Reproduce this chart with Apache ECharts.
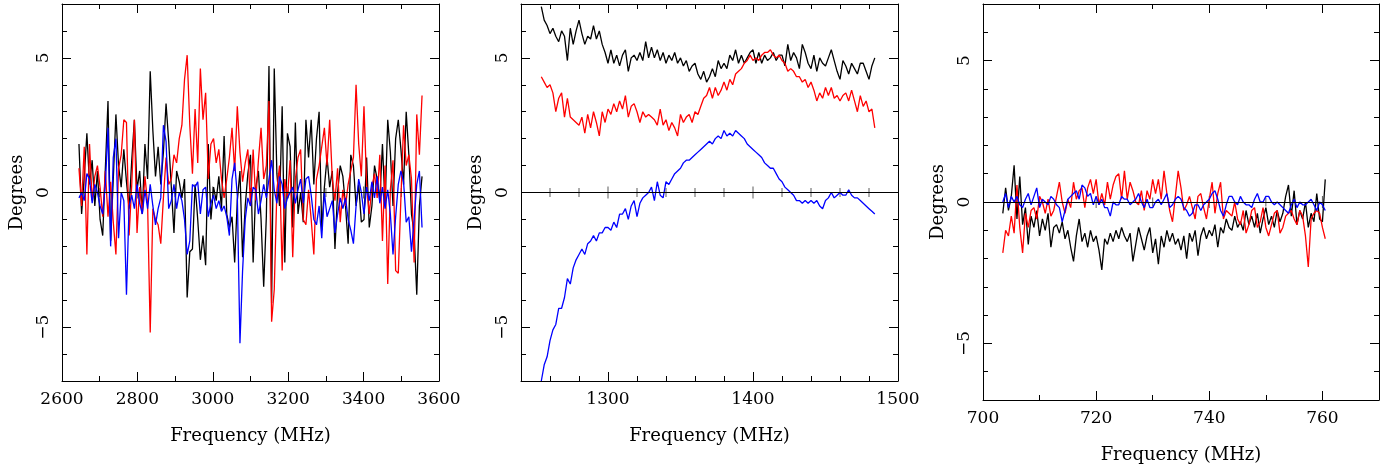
<!DOCTYPE html>
<html>
<head>
<meta charset="utf-8">
<script src="https://cdn.jsdelivr.net/npm/echarts/dist/echarts.min.js"></script>
<style>
html, body { margin: 0; padding: 0; background: #fff; }
#chart { width: 1392px; height: 469px; }
</style>
</head>
<body>
<div id="chart"></div>
<script>
// panel 1: 2645 MHz onwards, 7 MHz channels
var p1Start = 2645, p1Step = 7;
var p1Black = [1.8, -0.8, 0.6, 2.2, 0.3, 1.2, -0.5, 0.8, -1.0, -1.6, 0.9, 3.4, -1.8, 0.5, 2.9, 1.0, 0.2, 1.6, 0.4, -0.6, 1.2, 2.7, 0.1, 0.8, -0.8, 1.8, 0.5, 4.5, 2.3, 0.6,
  1.7, 0.3, 1.5, 3.3, 1.9, 0.2, -1.5, 0.8, 0.4, -0.2, 0.5, -3.9, -2.2, -2.1, 0.3, -1.0, -2.5, -1.6, -2.7, 1.8, -1.0, 0.2, -0.3, 0.6, -0.6, 2.1, -0.8, -1.3, -0.9, -2.6, -0.3, 0.8, -2.4, -0.5, 0.7, 1.4,
  -2.6, 0.2, 0.8, -1.0, -3.5, -0.9, 4.7, -4.1, 4.6, 0.7, -0.5, 3.2, -2.6, 2.2, 1.7, -1.3, 2.6, -0.8, 0.0, -1.1, 2.7, 1.3, 2.7, 0.3, 2.0, 3.0, -1.4, 0.2, 1.3, 0.2, 0.8, -2.1, 0.0, 1.0, 0.6,
  -0.5, -1.9, 1.4, 1.0, -0.5, 0.3, -1.1, -1.0, 1.3, -1.3, -0.5, 1.0, 0.5, -0.3, 1.8, -0.5, 2.7, 1.5, -0.5, 2.0, 2.7, 1.6, 0.3, 3.0, 1.4, -0.8, -1.5, -3.8, -0.5, 0.6];
var p1Red = [0.9, -0.5, 1.7, -2.3, 1.8, -0.3, 0.6, 1.0, 0.2, -0.9, 0.8, -0.9, 0.4, -1.1, -2.3, 0.9, 1.4, 2.7, 2.6, -1.6, 0.3, 2.7, -1.5, 0.2, -0.8, 0.6, -0.4, -5.2, -0.6, -1.0,
  -1.2, -1.9, -0.2, 1.3, 0.3, 0.5, 1.4, 1.1, 2.0, 2.5, 4.2, 5.1, 2.5, 0.7, 3.1, 1.1, 4.6, 2.7, 3.7, 0.5, 1.8, 2.0, 1.1, 1.6, 0.5, -0.2, 0.5, 1.3, 2.4, 0.8, 3.2, 1.5, 0.4, 1.1, 1.6, -0.5,
  1.6, -0.3, 1.2, 2.4, 0.5, 1.0, 3.4, -4.8, -3.6, 0.1, 1.0, -2.9, 0.5, -0.2, 1.2, -2.4, 0.5, 1.3, 1.6, -1.0, -1.2, 0.1, -1.0, -2.3, 0.5, 1.0, 1.7, 2.4, 1.0, 2.7, 0.5, -0.3, 0.9, -1.1, 0.1,
  -0.5, 0.3, 0.8, 1.3, 4.0, 1.8, 0.6, 3.2, 0.3, -0.8, 0.2, 0.7, -0.2, 1.4, -1.8, 1.0, -3.4, 0.1, 1.2, -2.9, -3.0, -0.2, 2.5, 1.0, 1.4, 0.5, -2.6, 2.9, 1.4, 3.6];
var p1Blue = [-0.2, 0.0, -0.3, 0.7, 0.5, -0.4, 0.3, 0.0, -0.5, -0.8, 0.3, 2.4, -2.0, 1.3, 2.0, -1.7, 0.0, -0.3, -3.8, -0.5, -0.1, -0.6, 0.3, -0.4, -0.8, 0.1, -0.6, 0.3, -0.5, -1.2,
  -0.6, -0.2, 2.5, 1.9, -0.6, -0.3, 0.3, -0.6, 0.0, -0.3, -1.0, -2.3, -1.8, 0.3, 0.2, 0.4, -0.8, 0.1, 0.2, -0.9, -0.4, -0.1, -0.6, -0.3, -0.7, -0.5, -0.9, -1.6, 0.5, 1.1, -0.1, -5.6, -2.9, -1.0, -0.2, -0.5,
  0.2, 0.1, -0.8, -0.3, 0.3, -0.2, 0.5, 1.2, 0.1, -0.4, 0.6, 0.3, -0.6, -0.2, 0.0, 0.2, -0.4, 0.1, 0.5, -0.4, 0.5, 0.6, -0.1, -1.0, -1.2, -0.5, -1.7, 0.0, -0.9, -0.6, -0.3, -1.5, -0.8, -0.2, -0.6,
  -0.2, -1.0, -1.4, -1.9, -0.5, 0.5, 0.0, -0.8, 0.2, -0.3, 0.4, -0.2, 0.6, -0.4, 0.2, -0.6, 0.1, -0.8, -2.3, -0.9, 0.3, 0.8, 0.4, -1.1, -0.9, -2.2, -1.0, 0.3, 0.8, -1.3];

// panel 2: 1254 MHz onwards, 2 MHz channels
var p2Start = 1254, p2Step = 2;
var p2Black = [6.9, 6.4, 6.2, 5.9, 6.1, 5.8, 5.6, 6.0, 5.8, 4.9, 6.1, 5.5, 6.0, 6.4, 5.9, 5.5, 5.8, 5.7, 6.2, 5.7, 6.0, 5.5, 5.2, 4.8, 5.3, 4.8, 5.1, 4.7, 5.1, 5.3,
  4.5, 5.0, 5.1, 4.9, 5.2, 4.9, 5.6, 5.0, 5.4, 5.0, 5.3, 4.9, 5.2, 4.8, 5.1, 4.9, 5.2, 4.8, 5.0, 4.7, 4.9, 4.5, 4.7, 4.8, 4.4, 4.2, 4.5, 4.1, 4.3,
  4.6, 4.3, 4.9, 4.6, 4.8, 4.6, 5.1, 4.9, 5.3, 4.8, 5.1, 4.8, 5.0, 5.2, 5.3, 4.8, 5.2, 4.8, 5.1, 4.9, 5.0, 5.2, 4.9, 5.1, 5.1, 4.7, 5.5, 4.9, 5.2, 5.0,
  4.6, 5.5, 5.2, 4.8, 4.6, 5.1, 4.5, 5.0, 4.8, 4.7, 5.0, 5.3, 4.9, 4.5, 4.2, 4.9, 4.7, 4.4, 4.8, 4.6, 4.4, 4.8, 4.8, 4.5, 4.2, 4.7, 5.0];
var p2Red = [4.3, 4.1, 3.9, 4.0, 3.7, 3.0, 3.5, 3.7, 2.8, 3.5, 2.8, 2.7, 2.6, 2.5, 2.8, 2.2, 2.9, 2.4, 3.0, 2.6, 2.1, 3.0, 2.6, 3.1, 2.9, 3.3, 3.0, 3.4, 3.1, 3.6,
  2.8, 3.2, 3.3, 3.0, 2.6, 3.0, 2.8, 2.9, 2.8, 2.7, 2.5, 3.1, 2.5, 2.7, 2.3, 2.6, 2.4, 2.1, 2.9, 2.6, 2.8, 2.9, 2.6, 3.0, 2.9, 3.2, 3.5, 3.6, 3.9,
  3.5, 3.9, 3.6, 3.8, 4.1, 3.8, 4.2, 4.0, 4.4, 4.5, 4.6, 4.8, 4.9, 5.1, 4.9, 5.0, 4.9, 5.1, 5.2, 5.2, 5.3, 5.1, 5.0, 5.1, 4.9, 4.8, 4.5, 4.6, 4.5, 4.3,
  4.3, 4.1, 4.2, 3.9, 4.1, 3.8, 3.4, 3.7, 3.5, 3.9, 3.6, 3.9, 3.5, 3.6, 3.4, 3.6, 3.7, 3.4, 3.8, 3.4, 3.0, 3.6, 3.2, 3.4, 3.0, 3.1, 2.4];
var p2Blue = [-7.0, -6.4, -6.1, -5.5, -5.1, -4.9, -4.3, -4.3, -3.9, -3.2, -3.4, -2.8, -2.5, -2.3, -2.1, -2.3, -1.9, -1.8, -1.6, -1.8, -1.5, -1.5, -1.3, -1.3, -1.4, -1.1, -1.3, -0.8, -0.8, -0.6,
  -1.0, -0.5, -0.3, -0.9, -0.4, -0.2, -0.1, 0.0, 0.2, -0.3, 0.4, -0.1, -0.2, 0.4, 0.3, 0.5, 0.7, 0.8, 0.9, 1.1, 1.2, 1.2, 1.3, 1.4, 1.5, 1.6, 1.7, 1.8, 1.9,
  1.8, 2.0, 2.1, 2.0, 2.3, 2.1, 2.2, 2.1, 2.3, 2.2, 2.1, 2.0, 1.8, 1.7, 1.6, 1.5, 1.4, 1.3, 1.1, 1.0, 0.9, 0.9, 0.7, 0.5, 0.4, 0.2, 0.1, 0.0, -0.1, -0.3,
  -0.3, -0.4, -0.3, -0.4, -0.3, -0.4, -0.3, -0.5, -0.6, -0.3, -0.2, 0.0, -0.2, -0.1, 0.0, -0.1, -0.1, 0.1, -0.1, -0.2, -0.2, -0.3, -0.4, -0.5, -0.6, -0.7, -0.8];

// panel 3: 703.5 MHz onwards, 0.5 MHz channels
var p3Start = 703.5, p3Step = 0.5;
var p3Black = [-0.4, 0.5, -0.3, 0.2, 1.3, -0.6, 0.9, -0.8, -0.2, -1.5, -0.5, -0.9, -0.3, -1.2, -0.6, -1.0, -0.4, -1.6, -0.9, -0.8, -1.1, -0.7, -1.3, -1.0, -1.6, -2.1, -1.2, -0.6, -1.4, -1.1,
  -1.6, -1.0, -1.4, -1.2, -1.7, -2.4, -1.3, -1.5, -1.1, -1.4, -1.0, -1.3, -0.9, -1.2, -1.4, -1.1, -2.1, -1.5, -0.9, -1.3, -1.7, -1.2, -0.9, -1.8, -1.3, -2.2, -1.2,
  -1.6, -1.0, -1.4, -1.1, -1.5, -1.3, -1.7, -1.2, -2.0, -1.1, -1.4, -1.0, -1.9, -1.2, -0.9, -1.3, -1.0, -1.2, -0.8, -1.6, -0.9, -1.1, -0.6, -0.9, -1.0, -0.5, -0.9, -0.7, -1.0, -0.3,
  -0.8, -0.5, -0.9, -0.4, -1.1, -0.6, -0.2, -0.8, -0.5, -0.9, -0.3, -0.7, -0.4, 0.2, 0.6, -0.5, 0.4, -0.8, -0.3, -0.6, 0.0, -0.9, -0.4, -0.7, 0.3, -0.6, -0.7, 0.8];
var p3Red = [-1.8, -1.0, -1.2, -0.5, -1.1, 0.6, -0.9, -1.8, -0.4, -0.9, -0.3, -0.2, -0.6, 0.2, 0.0, -0.4, 0.1, -0.5, -0.3, 0.2, 0.7, 0.0, -0.4, 0.1, -0.2, 0.7, 0.1, 0.4, 0.5, -0.2,
  0.5, 0.8, 0.3, 0.8, -0.1, 0.3, -0.1, 0.7, 0.1, 0.6, 0.9, 1.0, 0.1, 1.1, 0.1, 0.7, 0.4, 0.0, -0.1, 0.4, -0.3, 0.4, 0.1, 0.8, 0.3, 0.8, 0.1,
  1.1, 0.3, -0.3, -0.7, 0.2, 1.1, 0.5, -0.3, -0.1, 0.2, -0.2, -0.6, 0.2, 0.3, -0.2, -0.6, 0.1, 0.7, -0.4, 0.3, 0.7, -0.6, -0.3, -0.4, -0.5, 0.0, -0.6, -0.8, -0.3, -1.1,
  -0.8, -0.3, -0.2, -0.9, -0.7, -0.2, -0.9, -1.2, -0.8, -0.4, -0.3, -1.1, -0.9, -0.5, -0.4, -0.3, -0.6, -0.8, -0.3, -0.5, -1.2, -2.3, -0.6, -0.4, -0.3, -0.4, -0.9, -1.3];
var p3Blue = [0.0, 0.3, -0.2, 0.2, 0.0, 0.2, -0.1, -0.2, 0.1, 0.3, -0.1, 0.2, 0.5, -0.2, 0.1, 0.0, -0.1, 0.2, 0.1, -0.1, -0.2, -0.7, -0.3, 0.1, 0.2, 0.3, 0.4, 0.1, 0.6, 0.5,
  0.2, 0.3, -0.1, 0.2, -0.1, 0.1, -0.2, -0.2, -0.5, 0.0, -0.1, -0.1, 0.2, 0.1, 0.1, -0.1, 0.0, 0.1, 0.3, 0.0, -0.2, 0.1, -0.2, -0.2, 0.0, 0.1, -0.1,
  0.1, 0.3, -0.2, -0.1, 0.1, 0.2, 0.1, -0.2, -0.3, -0.5, -0.4, -0.1, -0.1, -0.3, -0.1, 0.0, 0.1, 0.3, 0.4, 0.1, -0.3, -0.5, -0.1, 0.2, 0.2, 0.0, -0.1, 0.2, 0.0, -0.1,
  -0.1, -0.2, 0.1, 0.3, 0.0, 0.0, 0.2, 0.2, 0.0, -0.1, 0.0, -0.1, -0.2, -0.3, -0.4, -0.1, 0.1, -0.2, 0.0, -0.1, -0.1, 0.0, 0.1, -0.1, -0.3, 0.0, -0.1, -0.3];

// x axis ranges: [min, max, minor tick step]
var xRanges = [[2600, 3600, 100], [1240, 1500, 20], [700, 770, 10]];
// labelled (major) ticks
var xMajor = [[2600, 2800, 3000, 3200, 3400, 3600], [1300, 1400, 1500], [700, 720, 740, 760]];
var yMajor = [-5, 0, 5];
var yTickLabels = {'5': '5', '0': '0', '-5': '\u22125'};
// ticks drawn across the zero axis
var zeroMinor = [[2700, 2900, 3100, 3300, 3500], [1260, 1280, 1320, 1340, 1360, 1380, 1420, 1440, 1460, 1480], [710, 730, 750]];
var zeroMajor = [[2800, 3000, 3200, 3400], [1300, 1400], [720, 740, 760]];

var FONT = 'DejaVu Serif';
var chart = echarts.init(document.getElementById('chart'));

var rects = [
    {left: 62, top: 4, width: 377, height: 377},
    {left: 521, top: 4, width: 377, height: 377},
    {left: 983, top: 4, width: 396, height: 396}
];
// grids 0-2 carry the data, grids 3-5 sit on top only for the long ticks
var grids = rects.concat(rects.map(function (r) { return Object.assign({}, r); }));

function pairs(start, step, vals) {
    return vals.map(function (v, i) { return [start + step * i, v]; });
}

var xAxes = [], yAxes = [], series = [];
var minorTick = {show: true, inside: true, length: 5, lineStyle: {color: '#000', width: 1}};
var lineAx = {show: true, onZero: false, lineStyle: {color: '#000', width: 1}};
var noLine = {show: false, onZero: false};

xRanges.forEach(function (r, g) {
    var majors = xMajor[g];
    xAxes.push({
        gridIndex: g, type: 'value', position: 'bottom', min: r[0], max: r[1], interval: r[2],
        axisLine: lineAx, axisTick: minorTick, splitLine: {show: false},
        axisLabel: {margin: 10, fontFamily: FONT, fontSize: 17, color: '#000',
            formatter: function (v) { return majors.indexOf(Math.round(v)) >= 0 ? String(Math.round(v)) : ''; }},
        name: 'Frequency (MHz)', nameLocation: 'middle', nameGap: 46,
        nameTextStyle: {fontFamily: FONT, fontSize: 18, color: '#000'}
    });
    xAxes.push({
        gridIndex: g, type: 'value', position: 'top', min: r[0], max: r[1], interval: r[2],
        axisLine: lineAx, axisTick: minorTick, splitLine: {show: false}, axisLabel: {show: false}
    });
    yAxes.push({
        gridIndex: g, type: 'value', position: 'left', min: -7, max: 7, interval: 1,
        axisLine: lineAx, axisTick: minorTick, splitLine: {show: false},
        axisLabel: {margin: 10, rotate: 90, fontFamily: FONT, fontSize: 17, color: '#000',
            formatter: function (v) { return yTickLabels[String(v)] || ''; }},
        name: 'Degrees', nameLocation: 'middle', nameGap: 36, nameRotate: 90,
        nameTextStyle: {fontFamily: FONT, fontSize: 18, color: '#000'}
    });
    yAxes.push({
        gridIndex: g, type: 'value', position: 'right', min: -7, max: 7, interval: 1,
        axisLine: lineAx, axisTick: minorTick, splitLine: {show: false}, axisLabel: {show: false}
    });
});

// long (major) ticks on the overlay grids
xRanges.forEach(function (r, g) {
    var majTick = {show: true, inside: true, length: 9, lineStyle: {color: '#000', width: 1}, customValues: xMajor[g]};
    var majTickY = {show: true, inside: true, length: 9, lineStyle: {color: '#000', width: 1}, customValues: yMajor};
    ['bottom', 'top'].forEach(function (pos) {
        xAxes.push({gridIndex: 3 + g, type: 'value', position: pos, min: r[0], max: r[1],
            axisLine: noLine, axisTick: majTick, axisLabel: {show: false}, splitLine: {show: false}});
    });
    ['left', 'right'].forEach(function (pos) {
        yAxes.push({gridIndex: 3 + g, type: 'value', position: pos, min: -7, max: 7,
            axisLine: noLine, axisTick: majTickY, axisLabel: {show: false}, splitLine: {show: false}});
    });
});

var panels = [
    [p1Start, p1Step, p1Black, p1Red, p1Blue],
    [p2Start, p2Step, p2Black, p2Red, p2Blue],
    [p3Start, p3Step, p3Black, p3Red, p3Blue]
];
var colors = ['#000000', '#ff0000', '#0000ff'];

panels.forEach(function (p, g) {
    // ticks crossing the y = 0 axis line
    series.push({
        type: 'scatter', xAxisIndex: g * 2, yAxisIndex: g * 2, silent: true,
        symbol: 'rect', symbolSize: [1, 9], itemStyle: {color: '#333'}, z: 1,
        data: zeroMinor[g].map(function (x) { return [x, 0]; })
    });
    series.push({
        type: 'scatter', xAxisIndex: g * 2, yAxisIndex: g * 2, silent: true,
        symbol: 'rect', symbolSize: [1, 12], itemStyle: {color: '#333'}, z: 1,
        data: zeroMajor[g].map(function (x) { return [x, 0]; })
    });
    for (var s = 0; s < 3; s++) {
        var ser = {
            type: 'line', xAxisIndex: g * 2, yAxisIndex: g * 2,
            data: pairs(p[0], p[1], p[2 + s]),
            showSymbol: false, symbol: 'none', silent: true,
            lineStyle: {color: colors[s], width: 1.3},
            z: 2 + s
        };
        if (s === 0) {
            // horizontal axis line at zero
            ser.markLine = {silent: true, symbol: 'none', label: {show: false},
                lineStyle: {color: '#000', width: 1, type: 'solid'},
                data: [{yAxis: 0}]};
        }
        series.push(ser);
    }
});

chart.setOption({
    animation: false,
    backgroundColor: '#fff',
    grid: grids,
    xAxis: xAxes,
    yAxis: yAxes,
    series: series
});
</script>
</body>
</html>
